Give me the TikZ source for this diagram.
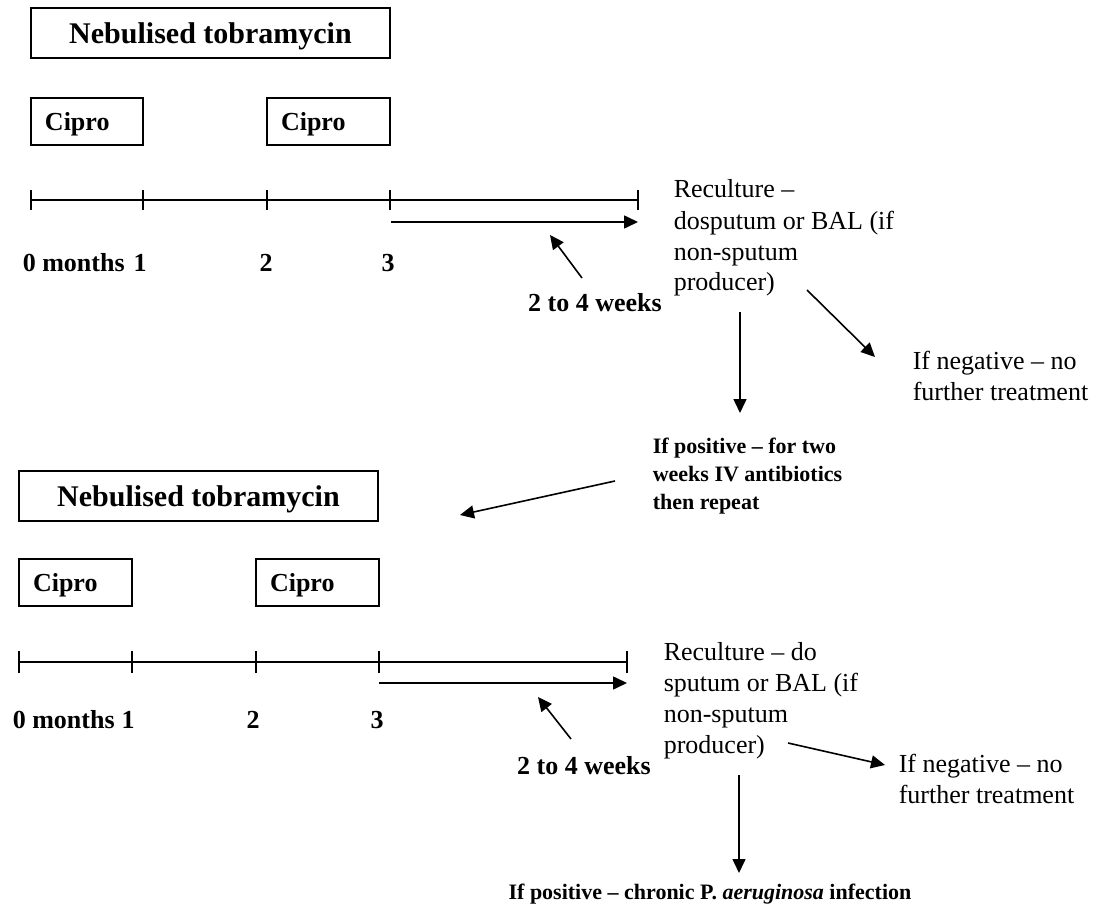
\documentclass[tikz,border=0pt]{standalone}
\usepackage{fontspec}
\setmainfont{Liberation Serif}
\usetikzlibrary{arrows.meta,positioning}
\newcommand{\headtxt}{\fontsize{30pt}{36pt}\selectfont\bfseries}
\newcommand{\bodytxt}{\fontsize{26pt}{31pt}\selectfont}
\newcommand{\boldtxt}{\fontsize{26pt}{31pt}\selectfont\bfseries}
\newcommand{\notetxt}{\fontsize{22pt}{28pt}\selectfont\bfseries}

\begin{document}
\begin{tikzpicture}[x=1pt,y=-1pt,line width=1.6pt,>={Triangle[length=14pt,width=13pt]}]
  \tikzstyle{banner}=[draw,minimum width=359pt,minimum height=50pt,inner sep=0pt,text depth=0pt,font=\headtxt]
  \tikzstyle{drug}=[draw,minimum height=47pt,inner xsep=14pt,inner ysep=0pt,text depth=0pt,align=left,font=\boldtxt]
  \tikzstyle{month}=[anchor=base,inner sep=0pt,font=\boldtxt]
  \tikzstyle{note}=[anchor=base west,inner sep=0pt,align=left,font=\bodytxt]

  \useasboundingbox (0,0) rectangle (1096,912);

  % first course
  \node[banner] (neba) at (210.5,33) {Nebulised tobramycin};
  \node[drug,text width=84pt] (cipaa) at (87,121.5) {Cipro};
  \node[drug,text width=95pt] (cipab) at (328.5,121.5) {Cipro};

  \foreach \x/\n in {31/0,143/1,267/2,390/3,638/4}
    \coordinate (ta\n) at (\x,200);
  \draw (ta0) -- (ta4);
  \foreach \n in {0,...,4}
    \draw ([yshift=-10pt]ta\n) -- ([yshift=10pt]ta\n);

  \coordinate (wa0) at (391,222);
  \coordinate (wa1) at (638,222);
  \draw[->] (wa0) -- (wa1);

  \node[month,anchor=base west] (ma0) at (22,272) {0 months};
  \node[month] (ma1) at (140,272) {1};
  \node[month] (ma2) at (266,272) {2};
  \node[month] (ma3) at (388,272) {3};

  \node[month] (wka) at (595,312) {2 to 4 weeks};
  \coordinate (wka0) at (582,278);
  \coordinate (wka1) at (550,235);
  \draw[->] (wka0) -- (wka1);

  % base of a note is its last line
  \node[note] (rca) at (673,291) {Reculture –\\dosputum or BAL (if\\non-sputum\\producer)};
  \node[note] (nga) at (912,400) {If negative – no\\further treatment};
  \node[note,font=\notetxt] (psa) at (652,509) {If positive – for two\\weeks IV antibiotics\\then repeat};

  \coordinate (nga0) at (807,290);
  \coordinate (nga1) at (875,357);
  \draw[->] (nga0) -- (nga1);
  \coordinate (psa0) at (740,312);
  \coordinate (psa1) at (740,413);
  \draw[->] (psa0) -- (psa1);
  \coordinate (rep0) at (615,481);
  \coordinate (rep1) at (460,515);
  \draw[->] (rep0) -- (rep1);

  % second course
  \node[banner] (nebb) at (198.5,496) {Nebulised tobramycin};
  \node[drug,text width=85pt] (cipba) at (75.5,582.5) {Cipro};
  \node[drug,text width=95pt] (cipbb) at (317.5,582.5) {Cipro};

  \foreach \x/\n in {19/0,132/1,256/2,379/3,627/4}
    \coordinate (tb\n) at (\x,662);
  \draw (tb0) -- (tb4);
  \foreach \n in {0,...,4}
    \draw ([yshift=-11pt]tb\n) -- ([yshift=11pt]tb\n);

  \coordinate (wb0) at (379,683);
  \coordinate (wb1) at (627,683);
  \draw[->] (wb0) -- (wb1);

  \node[month,anchor=base west] (mb0) at (12,728) {0 months};
  \node[month] (mb1) at (128,728) {1};
  \node[month] (mb2) at (253,728) {2};
  \node[month] (mb3) at (377,728) {3};

  \node[month] (wkb) at (584,774) {2 to 4 weeks};
  \coordinate (wkb0) at (571,739);
  \coordinate (wkb1) at (538,697);
  \draw[->] (wkb0) -- (wkb1);

  \node[note] (rcb) at (663,753) {Reculture – do\\sputum or BAL (if\\non-sputum\\producer)};
  \node[note] (ngb) at (898,803) {If negative – no\\further treatment};

  \coordinate (ngb0) at (788,743);
  \coordinate (ngb1) at (885,765);
  \draw[->] (ngb0) -- (ngb1);
  \coordinate (fin0) at (739,775);
  \coordinate (fin1) at (739,873);
  \draw[->] (fin0) -- (fin1);

  \node[month,font=\notetxt] (fin) at (710,899) {If positive – chronic P. \textit{aeruginosa} infection};

\end{tikzpicture}
\end{document}
